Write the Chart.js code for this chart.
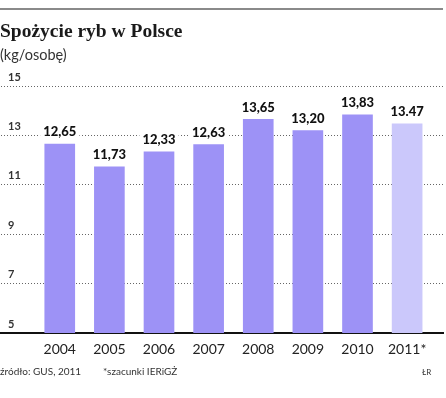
<!DOCTYPE html>
<html lang="pl">
<head>
<meta charset="utf-8">
<title>Spożycie ryb w Polsce</title>
<script src="https://cdn.jsdelivr.net/npm/chart.js@4/dist/chart.umd.min.js"></script>
<style>
    html, body { margin: 0; padding: 0; background: #fff; }
    #wrap { position: relative; width: 446px; height: 398px; overflow: hidden; font-family: Lato, "Open Sans", sans-serif; color: #222; }
    #wrap canvas { position: absolute; left: 0; top: 0; }
    .topline { position: absolute; left: 0; top: 8px; width: 443px; height: 2px; background: #8a8a8a; }
    .title { position: absolute; left: 0; top: 20px; font: bold 19.5px "Liberation Serif", "DejaVu Serif", serif; color: #1a1a1a; white-space: nowrap; }
    .unit { position: absolute; left: 0; top: 46px; font-size: 14.5px; color: #333; white-space: nowrap; }
    .foot { position: absolute; top: 365px; font-size: 10px; color: #333; white-space: nowrap; }
</style>
</head>
<body>
<div id="wrap">
    <canvas id="fishChart" width="446" height="398"></canvas>
    <div class="topline"></div>
    <div class="title">Spożycie ryb w Polsce</div>
    <div class="unit">(kg/osobę)</div>
    <div class="foot" style="left:0">źródło: GUS, 2011</div>
    <div class="foot" style="left:103px">*szacunki IERiGŻ</div>
    <div class="foot" style="left:422px;font-size:8px;top:367px">ŁR</div>
</div>
<script>
'use strict';

// dane z wykresu
const years = [2004, 2005, 2006, 2007, 2008, 2009, 2010, 2011];
const yearLabels = ['2004', '2005', '2006', '2007', '2008', '2009', '2010', '2011*'];
const values = [12.65, 11.73, 12.33, 12.63, 13.65, 13.20, 13.83, 13.47];
const valueLabels = ['12,65', '11,73', '12,33', '12,63', '13,65', '13,20', '13,83', '13.47'];
const yTicks = [5, 7, 9, 11, 13, 15];

const BAR = '#9d92f6';
const BAR_EST = '#cbc8fb';

// etykiety wartości nad słupkami (z białym tłem, przerywa linie siatki)
const valueLabelPlugin = {
    id: 'valueLabels',
    afterDatasetsDraw(chart) {
        const ctx = chart.ctx;
        const meta = chart.getDatasetMeta(0);
        ctx.save();
        ctx.font = '900 13px Lato, "Open Sans", sans-serif';
        ctx.textAlign = 'center';
        ctx.textBaseline = 'middle';
        meta.data.forEach((bar, i) => {
            const text = valueLabels[i];
            const w = ctx.measureText(text).width;
            const cy = bar.y - 12;
            ctx.fillStyle = '#fff';
            ctx.fillRect(bar.x - w / 2 - 3, cy - 7, w + 6, 14);
            ctx.fillStyle = '#111';
            ctx.fillText(text, bar.x, cy);
        });
        ctx.restore();
    }
};

const chart = new Chart(document.getElementById('fishChart'), {
    type: 'bar',
    data: {
        datasets: [{
            data: years.map((y, i) => ({ x: y, y: values[i] })),
            backgroundColor: (c) => c.dataIndex === values.length - 1 ? BAR_EST : BAR,
            borderWidth: 0,
            barThickness: 30
        }]
    },
    options: {
        responsive: false,
        animation: false,
        layout: { padding: { left: 1, right: 3, top: 86, bottom: 35 } },
        plugins: { legend: { display: false }, tooltip: { enabled: false } },
        scales: {
            x: {
                type: 'linear',
                offset: false,
                min: 2002.816,
                max: 2011.723,
                afterBuildTicks: (s) => { s.ticks = years.map(v => ({ value: v })); },
                afterFit: (s) => { s.height = 30; },
                grid: { display: false, drawTicks: false },
                border: { display: true, color: '#111', width: 2 },
                ticks: {
                    padding: 8,
                    color: '#222',
                    font: { family: 'Lato, "Open Sans", sans-serif', size: 14 },
                    callback: (v) => yearLabels[years.indexOf(v)]
                }
            },
            y: {
                min: 5,
                max: 15,
                afterBuildTicks: (s) => { s.ticks = yTicks.map(v => ({ value: v })); },
                afterFit: (s) => { s.width = 0; },
                grid: {
                    drawTicks: false,
                    color: (c) => c.tick && c.tick.value === 5 ? 'rgba(0,0,0,0)' : '#666'
                },
                border: { display: false, dash: [1, 2] },
                ticks: {
                    mirror: true,
                    padding: 7,
                    labelOffset: -9,
                    color: '#333',
                    font: { family: 'Lato, "Open Sans", sans-serif', size: 11, weight: 'bold' }
                }
            }
        }
    },
    plugins: [valueLabelPlugin]
});
</script>
</body>
</html>
